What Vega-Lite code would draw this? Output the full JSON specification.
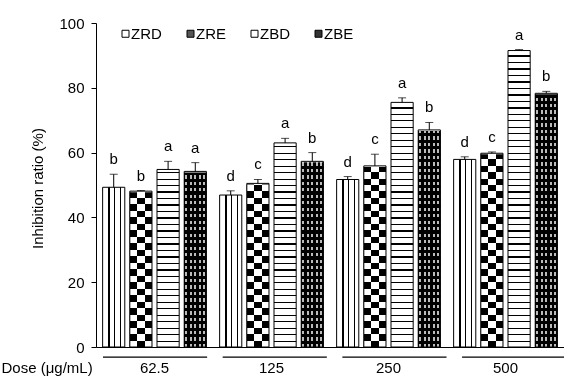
{
"$schema": "https://vega.github.io/schema/vega-lite/v6.json",
"width": 468,
"height": 324,
"autosize": "none",
"padding": {"left": 96, "top": 23, "right": 0, "bottom": 29},
"background": "white",
"data": {"values": [
{"dose":"62.5","series":"ZRD","mean":49.3,"hi":53.3,"letter":"b"},
{"dose":"62.5","series":"ZRE","mean":48.1,"hi":48.3,"letter":"b"},
{"dose":"62.5","series":"ZBD","mean":54.8,"hi":57.3,"letter":"a"},
{"dose":"62.5","series":"ZBE","mean":54.2,"hi":56.9,"letter":"a"},
{"dose":"125","series":"ZRD","mean":46.9,"hi":48.2,"letter":"d"},
{"dose":"125","series":"ZRE","mean":50.5,"hi":51.7,"letter":"c"},
{"dose":"125","series":"ZBD","mean":63.0,"hi":64.4,"letter":"a"},
{"dose":"125","series":"ZBE","mean":57.3,"hi":60.0,"letter":"b"},
{"dose":"250","series":"ZRD","mean":51.7,"hi":52.6,"letter":"d"},
{"dose":"250","series":"ZRE","mean":55.9,"hi":59.5,"letter":"c"},
{"dose":"250","series":"ZBD","mean":75.5,"hi":76.9,"letter":"a"},
{"dose":"250","series":"ZBE","mean":67.0,"hi":69.3,"letter":"b"},
{"dose":"500","series":"ZRD","mean":57.9,"hi":58.7,"letter":"d"},
{"dose":"500","series":"ZRE","mean":59.8,"hi":60.2,"letter":"c"},
{"dose":"500","series":"ZBD","mean":91.5,"hi":91.8,"letter":"a"},
{"dose":"500","series":"ZBE","mean":78.3,"hi":78.9,"letter":"b"}
]},
"layer": [
{
"encoding": {
"x": {"field":"dose","type":"nominal","sort":["62.5","125","250","500"],"scale":{"paddingInner":0.1134,"paddingOuter":0.0567},"title":"Dose (μg/mL)"},
"xOffset": {"field":"series","type":"nominal","sort":["ZRD","ZRE","ZBD","ZBE"],"scale":{"paddingInner":0.185,"paddingOuter":0}}
},
"layer": [
{"mark":{"type":"bar"},
"encoding":{
"y":{"field":"mean","type":"quantitative","scale":{"domain":[0,100],"nice":false},"title":"Inhibition ratio (%)"},
"fill":{"field":"series","type":"nominal","scale":{"domain":["ZRD","ZRE","ZBD","ZBE"],"range":["#ffffff","#555555","#ffffff","#333333"]},
"legend":{"title":null,"orient":"none","legendX":22,"legendY":3,"direction":"horizontal","symbolType":"square","symbolSize":49,"labelFontSize":15,"labelColor":"#000","labelOffset":-2,"columnPadding":21,"padding":0,"symbolStrokeColor":"#000","symbolStrokeWidth":1,
"encode":{"symbols":{"update":{"stroke":{"value":"#000"},"fill":{"signal":"datum.value === 'ZRD' ? {gradient: 'linear', x1: 0, y1: 0, x2: 1, y2: 0, stops: [{offset: 0, color: '#fff'}, {offset: 0.3, color: '#fff'}, {offset: 0.3, color: '#000'}, {offset: 0.45, color: '#000'}, {offset: 0.45, color: '#fff'}, {offset: 0.6, color: '#fff'}, {offset: 0.6, color: '#000'}, {offset: 0.75, color: '#000'}, {offset: 0.75, color: '#fff'}, {offset: 1, color: '#fff'}]} : datum.value === 'ZBD' ? {gradient: 'linear', x1: 1, y1: 0, x2: 1, y2: 1, stops: [{offset: 0, color: '#fff'}, {offset: 0.3, color: '#fff'}, {offset: 0.3, color: '#000'}, {offset: 0.45, color: '#000'}, {offset: 0.45, color: '#fff'}, {offset: 0.6, color: '#fff'}, {offset: 0.6, color: '#000'}, {offset: 0.75, color: '#000'}, {offset: 0.75, color: '#fff'}, {offset: 1, color: '#fff'}]} : datum.value === 'ZRE' ? '#555' : '#333'"}}}}}}
}},
{"transform":[{"filter":"datum.series === 'ZRD'"}],
"mark":{"type":"bar","fill":{"gradient":"linear","x1":0,"y1":0,"x2":1,"y2":0,"stops":[
{"offset":0,"color":"#fff"},{"offset":0.26,"color":"#fff"},{"offset":0.26,"color":"#000"},{"offset":0.31,"color":"#000"},{"offset":0.31,"color":"#fff"},{"offset":0.53,"color":"#fff"},{"offset":0.53,"color":"#000"},{"offset":0.58,"color":"#000"},{"offset":0.58,"color":"#fff"},{"offset":0.8,"color":"#fff"},{"offset":0.8,"color":"#000"},{"offset":0.85,"color":"#000"},{"offset":0.85,"color":"#fff"},{"offset":1,"color":"#fff"}]}},
"encoding":{"y":{"field":"mean","type":"quantitative","title":"Inhibition ratio (%)"}}},
{"transform":[{"filter":"datum.series === 'ZRE'"}],
"mark":{"type":"bar","fill":{"gradient":"linear","x1":0,"y1":0,"x2":1,"y2":0,"stops":[
{"offset":0,"color":"#000"},{"offset":0.333,"color":"#000"},{"offset":0.333,"color":"#fff"},{"offset":0.667,"color":"#fff"},{"offset":0.667,"color":"#000"},{"offset":1,"color":"#000"}]}},
"encoding":{"y":{"datum":100,"type":"quantitative","title":"Inhibition ratio (%)"},"y2":{"datum":0}}},
{"transform":[{"filter":"datum.series === 'ZRE'"}],
"mark":{"type":"bar","blend":"difference","fill":{"gradient":"linear","x1":1,"y1":0,"x2":1,"y2":1,"stops":[
{"offset":0,"color":"#000"},{"offset":0.02,"color":"#000"},{"offset":0.02,"color":"#fff"},{"offset":0.04,"color":"#fff"},
{"offset":0.04,"color":"#000"},{"offset":0.06,"color":"#000"},{"offset":0.06,"color":"#fff"},{"offset":0.08,"color":"#fff"},
{"offset":0.08,"color":"#000"},{"offset":0.1,"color":"#000"},{"offset":0.1,"color":"#fff"},{"offset":0.12,"color":"#fff"},
{"offset":0.12,"color":"#000"},{"offset":0.14,"color":"#000"},{"offset":0.14,"color":"#fff"},{"offset":0.16,"color":"#fff"},
{"offset":0.16,"color":"#000"},{"offset":0.18,"color":"#000"},{"offset":0.18,"color":"#fff"},{"offset":0.2,"color":"#fff"},
{"offset":0.2,"color":"#000"},{"offset":0.22,"color":"#000"},{"offset":0.22,"color":"#fff"},{"offset":0.24,"color":"#fff"},
{"offset":0.24,"color":"#000"},{"offset":0.26,"color":"#000"},{"offset":0.26,"color":"#fff"},{"offset":0.28,"color":"#fff"},
{"offset":0.28,"color":"#000"},{"offset":0.3,"color":"#000"},{"offset":0.3,"color":"#fff"},{"offset":0.32,"color":"#fff"},
{"offset":0.32,"color":"#000"},{"offset":0.34,"color":"#000"},{"offset":0.34,"color":"#fff"},{"offset":0.36,"color":"#fff"},
{"offset":0.36,"color":"#000"},{"offset":0.38,"color":"#000"},{"offset":0.38,"color":"#fff"},{"offset":0.4,"color":"#fff"},
{"offset":0.4,"color":"#000"},{"offset":0.42,"color":"#000"},{"offset":0.42,"color":"#fff"},{"offset":0.44,"color":"#fff"},
{"offset":0.44,"color":"#000"},{"offset":0.46,"color":"#000"},{"offset":0.46,"color":"#fff"},{"offset":0.48,"color":"#fff"},
{"offset":0.48,"color":"#000"},{"offset":0.5,"color":"#000"},{"offset":0.5,"color":"#fff"},{"offset":0.52,"color":"#fff"},
{"offset":0.52,"color":"#000"},{"offset":0.54,"color":"#000"},{"offset":0.54,"color":"#fff"},{"offset":0.56,"color":"#fff"},
{"offset":0.56,"color":"#000"},{"offset":0.58,"color":"#000"},{"offset":0.58,"color":"#fff"},{"offset":0.6,"color":"#fff"},
{"offset":0.6,"color":"#000"},{"offset":0.62,"color":"#000"},{"offset":0.62,"color":"#fff"},{"offset":0.64,"color":"#fff"},
{"offset":0.64,"color":"#000"},{"offset":0.66,"color":"#000"},{"offset":0.66,"color":"#fff"},{"offset":0.68,"color":"#fff"},
{"offset":0.68,"color":"#000"},{"offset":0.7,"color":"#000"},{"offset":0.7,"color":"#fff"},{"offset":0.72,"color":"#fff"},
{"offset":0.72,"color":"#000"},{"offset":0.74,"color":"#000"},{"offset":0.74,"color":"#fff"},{"offset":0.76,"color":"#fff"},
{"offset":0.76,"color":"#000"},{"offset":0.78,"color":"#000"},{"offset":0.78,"color":"#fff"},{"offset":0.8,"color":"#fff"},
{"offset":0.8,"color":"#000"},{"offset":0.82,"color":"#000"},{"offset":0.82,"color":"#fff"},{"offset":0.84,"color":"#fff"},
{"offset":0.84,"color":"#000"},{"offset":0.86,"color":"#000"},{"offset":0.86,"color":"#fff"},{"offset":0.88,"color":"#fff"},
{"offset":0.88,"color":"#000"},{"offset":0.9,"color":"#000"},{"offset":0.9,"color":"#fff"},{"offset":0.92,"color":"#fff"},
{"offset":0.92,"color":"#000"},{"offset":0.94,"color":"#000"},{"offset":0.94,"color":"#fff"},{"offset":0.96,"color":"#fff"},
{"offset":0.96,"color":"#000"},{"offset":0.98,"color":"#000"},{"offset":0.98,"color":"#fff"},{"offset":1,"color":"#fff"}]}},
"encoding":{"y":{"datum":100,"type":"quantitative","title":"Inhibition ratio (%)"},"y2":{"datum":0}}},
{"transform":[{"filter":"datum.series === 'ZBD'"}],
"mark":{"type":"bar","fill":{"gradient":"linear","x1":1,"y1":0,"x2":1,"y2":1,"stops":[
{"offset":0,"color":"#000"},{"offset":0.004,"color":"#000"},{"offset":0.004,"color":"#fff"},{"offset":0.02,"color":"#fff"},
{"offset":0.02,"color":"#000"},{"offset":0.024,"color":"#000"},{"offset":0.024,"color":"#fff"},{"offset":0.04,"color":"#fff"},
{"offset":0.04,"color":"#000"},{"offset":0.044,"color":"#000"},{"offset":0.044,"color":"#fff"},{"offset":0.06,"color":"#fff"},
{"offset":0.06,"color":"#000"},{"offset":0.064,"color":"#000"},{"offset":0.064,"color":"#fff"},{"offset":0.08,"color":"#fff"},
{"offset":0.08,"color":"#000"},{"offset":0.084,"color":"#000"},{"offset":0.084,"color":"#fff"},{"offset":0.1,"color":"#fff"},
{"offset":0.1,"color":"#000"},{"offset":0.104,"color":"#000"},{"offset":0.104,"color":"#fff"},{"offset":0.12,"color":"#fff"},
{"offset":0.12,"color":"#000"},{"offset":0.124,"color":"#000"},{"offset":0.124,"color":"#fff"},{"offset":0.14,"color":"#fff"},
{"offset":0.14,"color":"#000"},{"offset":0.144,"color":"#000"},{"offset":0.144,"color":"#fff"},{"offset":0.16,"color":"#fff"},
{"offset":0.16,"color":"#000"},{"offset":0.164,"color":"#000"},{"offset":0.164,"color":"#fff"},{"offset":0.18,"color":"#fff"},
{"offset":0.18,"color":"#000"},{"offset":0.184,"color":"#000"},{"offset":0.184,"color":"#fff"},{"offset":0.2,"color":"#fff"},
{"offset":0.2,"color":"#000"},{"offset":0.204,"color":"#000"},{"offset":0.204,"color":"#fff"},{"offset":0.22,"color":"#fff"},
{"offset":0.22,"color":"#000"},{"offset":0.224,"color":"#000"},{"offset":0.224,"color":"#fff"},{"offset":0.24,"color":"#fff"},
{"offset":0.24,"color":"#000"},{"offset":0.244,"color":"#000"},{"offset":0.244,"color":"#fff"},{"offset":0.26,"color":"#fff"},
{"offset":0.26,"color":"#000"},{"offset":0.264,"color":"#000"},{"offset":0.264,"color":"#fff"},{"offset":0.28,"color":"#fff"},
{"offset":0.28,"color":"#000"},{"offset":0.284,"color":"#000"},{"offset":0.284,"color":"#fff"},{"offset":0.3,"color":"#fff"},
{"offset":0.3,"color":"#000"},{"offset":0.304,"color":"#000"},{"offset":0.304,"color":"#fff"},{"offset":0.32,"color":"#fff"},
{"offset":0.32,"color":"#000"},{"offset":0.324,"color":"#000"},{"offset":0.324,"color":"#fff"},{"offset":0.34,"color":"#fff"},
{"offset":0.34,"color":"#000"},{"offset":0.344,"color":"#000"},{"offset":0.344,"color":"#fff"},{"offset":0.36,"color":"#fff"},
{"offset":0.36,"color":"#000"},{"offset":0.364,"color":"#000"},{"offset":0.364,"color":"#fff"},{"offset":0.38,"color":"#fff"},
{"offset":0.38,"color":"#000"},{"offset":0.384,"color":"#000"},{"offset":0.384,"color":"#fff"},{"offset":0.4,"color":"#fff"},
{"offset":0.4,"color":"#000"},{"offset":0.404,"color":"#000"},{"offset":0.404,"color":"#fff"},{"offset":0.42,"color":"#fff"},
{"offset":0.42,"color":"#000"},{"offset":0.424,"color":"#000"},{"offset":0.424,"color":"#fff"},{"offset":0.44,"color":"#fff"},
{"offset":0.44,"color":"#000"},{"offset":0.444,"color":"#000"},{"offset":0.444,"color":"#fff"},{"offset":0.46,"color":"#fff"},
{"offset":0.46,"color":"#000"},{"offset":0.464,"color":"#000"},{"offset":0.464,"color":"#fff"},{"offset":0.48,"color":"#fff"},
{"offset":0.48,"color":"#000"},{"offset":0.484,"color":"#000"},{"offset":0.484,"color":"#fff"},{"offset":0.5,"color":"#fff"},
{"offset":0.5,"color":"#000"},{"offset":0.504,"color":"#000"},{"offset":0.504,"color":"#fff"},{"offset":0.52,"color":"#fff"},
{"offset":0.52,"color":"#000"},{"offset":0.524,"color":"#000"},{"offset":0.524,"color":"#fff"},{"offset":0.54,"color":"#fff"},
{"offset":0.54,"color":"#000"},{"offset":0.544,"color":"#000"},{"offset":0.544,"color":"#fff"},{"offset":0.56,"color":"#fff"},
{"offset":0.56,"color":"#000"},{"offset":0.564,"color":"#000"},{"offset":0.564,"color":"#fff"},{"offset":0.58,"color":"#fff"},
{"offset":0.58,"color":"#000"},{"offset":0.584,"color":"#000"},{"offset":0.584,"color":"#fff"},{"offset":0.6,"color":"#fff"},
{"offset":0.6,"color":"#000"},{"offset":0.604,"color":"#000"},{"offset":0.604,"color":"#fff"},{"offset":0.62,"color":"#fff"},
{"offset":0.62,"color":"#000"},{"offset":0.624,"color":"#000"},{"offset":0.624,"color":"#fff"},{"offset":0.64,"color":"#fff"},
{"offset":0.64,"color":"#000"},{"offset":0.644,"color":"#000"},{"offset":0.644,"color":"#fff"},{"offset":0.66,"color":"#fff"},
{"offset":0.66,"color":"#000"},{"offset":0.664,"color":"#000"},{"offset":0.664,"color":"#fff"},{"offset":0.68,"color":"#fff"},
{"offset":0.68,"color":"#000"},{"offset":0.684,"color":"#000"},{"offset":0.684,"color":"#fff"},{"offset":0.7,"color":"#fff"},
{"offset":0.7,"color":"#000"},{"offset":0.704,"color":"#000"},{"offset":0.704,"color":"#fff"},{"offset":0.72,"color":"#fff"},
{"offset":0.72,"color":"#000"},{"offset":0.724,"color":"#000"},{"offset":0.724,"color":"#fff"},{"offset":0.74,"color":"#fff"},
{"offset":0.74,"color":"#000"},{"offset":0.744,"color":"#000"},{"offset":0.744,"color":"#fff"},{"offset":0.76,"color":"#fff"},
{"offset":0.76,"color":"#000"},{"offset":0.764,"color":"#000"},{"offset":0.764,"color":"#fff"},{"offset":0.78,"color":"#fff"},
{"offset":0.78,"color":"#000"},{"offset":0.784,"color":"#000"},{"offset":0.784,"color":"#fff"},{"offset":0.8,"color":"#fff"},
{"offset":0.8,"color":"#000"},{"offset":0.804,"color":"#000"},{"offset":0.804,"color":"#fff"},{"offset":0.82,"color":"#fff"},
{"offset":0.82,"color":"#000"},{"offset":0.824,"color":"#000"},{"offset":0.824,"color":"#fff"},{"offset":0.84,"color":"#fff"},
{"offset":0.84,"color":"#000"},{"offset":0.844,"color":"#000"},{"offset":0.844,"color":"#fff"},{"offset":0.86,"color":"#fff"},
{"offset":0.86,"color":"#000"},{"offset":0.864,"color":"#000"},{"offset":0.864,"color":"#fff"},{"offset":0.88,"color":"#fff"},
{"offset":0.88,"color":"#000"},{"offset":0.884,"color":"#000"},{"offset":0.884,"color":"#fff"},{"offset":0.9,"color":"#fff"},
{"offset":0.9,"color":"#000"},{"offset":0.904,"color":"#000"},{"offset":0.904,"color":"#fff"},{"offset":0.92,"color":"#fff"},
{"offset":0.92,"color":"#000"},{"offset":0.924,"color":"#000"},{"offset":0.924,"color":"#fff"},{"offset":0.94,"color":"#fff"},
{"offset":0.94,"color":"#000"},{"offset":0.944,"color":"#000"},{"offset":0.944,"color":"#fff"},{"offset":0.96,"color":"#fff"},
{"offset":0.96,"color":"#000"},{"offset":0.964,"color":"#000"},{"offset":0.964,"color":"#fff"},{"offset":0.98,"color":"#fff"},
{"offset":0.98,"color":"#000"},{"offset":0.984,"color":"#000"},{"offset":0.984,"color":"#fff"},{"offset":1,"color":"#fff"}]}},
"encoding":{"y":{"datum":100,"type":"quantitative","title":"Inhibition ratio (%)"},"y2":{"datum":0}}},
{"transform":[{"filter":"datum.series === 'ZBE'"}],
"mark":{"type":"bar","fill":{"gradient":"linear","x1":0,"y1":0,"x2":1,"y2":0,"stops":[
{"offset":0,"color":"#000"},{"offset":0.05,"color":"#000"},{"offset":0.05,"color":"#fff"},{"offset":0.14,"color":"#fff"},{"offset":0.14,"color":"#000"},{"offset":0.25,"color":"#000"},{"offset":0.25,"color":"#fff"},{"offset":0.34,"color":"#fff"},{"offset":0.34,"color":"#000"},{"offset":0.45,"color":"#000"},{"offset":0.45,"color":"#fff"},{"offset":0.54,"color":"#fff"},{"offset":0.54,"color":"#000"},{"offset":0.65,"color":"#000"},{"offset":0.65,"color":"#fff"},{"offset":0.74,"color":"#fff"},{"offset":0.74,"color":"#000"},{"offset":0.85,"color":"#000"},{"offset":0.85,"color":"#fff"},{"offset":0.94,"color":"#fff"},{"offset":0.94,"color":"#000"},{"offset":1,"color":"#000"}]}},
"encoding":{"y":{"datum":100,"type":"quantitative","title":"Inhibition ratio (%)"},"y2":{"datum":0}}},
{"transform":[{"filter":"datum.series === 'ZBE'"}],
"mark":{"type":"bar","blend":"multiply","fill":{"gradient":"linear","x1":1,"y1":0,"x2":1,"y2":1,"stops":[
{"offset":0,"color":"#000"},{"offset":0.01,"color":"#000"},{"offset":0.01,"color":"#bbb"},{"offset":0.02,"color":"#bbb"},
{"offset":0.02,"color":"#000"},{"offset":0.03,"color":"#000"},{"offset":0.03,"color":"#bbb"},{"offset":0.04,"color":"#bbb"},
{"offset":0.04,"color":"#000"},{"offset":0.05,"color":"#000"},{"offset":0.05,"color":"#bbb"},{"offset":0.06,"color":"#bbb"},
{"offset":0.06,"color":"#000"},{"offset":0.07,"color":"#000"},{"offset":0.07,"color":"#bbb"},{"offset":0.08,"color":"#bbb"},
{"offset":0.08,"color":"#000"},{"offset":0.09,"color":"#000"},{"offset":0.09,"color":"#bbb"},{"offset":0.1,"color":"#bbb"},
{"offset":0.1,"color":"#000"},{"offset":0.11,"color":"#000"},{"offset":0.11,"color":"#bbb"},{"offset":0.12,"color":"#bbb"},
{"offset":0.12,"color":"#000"},{"offset":0.13,"color":"#000"},{"offset":0.13,"color":"#bbb"},{"offset":0.14,"color":"#bbb"},
{"offset":0.14,"color":"#000"},{"offset":0.15,"color":"#000"},{"offset":0.15,"color":"#bbb"},{"offset":0.16,"color":"#bbb"},
{"offset":0.16,"color":"#000"},{"offset":0.17,"color":"#000"},{"offset":0.17,"color":"#bbb"},{"offset":0.18,"color":"#bbb"},
{"offset":0.18,"color":"#000"},{"offset":0.19,"color":"#000"},{"offset":0.19,"color":"#bbb"},{"offset":0.2,"color":"#bbb"},
{"offset":0.2,"color":"#000"},{"offset":0.21,"color":"#000"},{"offset":0.21,"color":"#bbb"},{"offset":0.22,"color":"#bbb"},
{"offset":0.22,"color":"#000"},{"offset":0.23,"color":"#000"},{"offset":0.23,"color":"#bbb"},{"offset":0.24,"color":"#bbb"},
{"offset":0.24,"color":"#000"},{"offset":0.25,"color":"#000"},{"offset":0.25,"color":"#bbb"},{"offset":0.26,"color":"#bbb"},
{"offset":0.26,"color":"#000"},{"offset":0.27,"color":"#000"},{"offset":0.27,"color":"#bbb"},{"offset":0.28,"color":"#bbb"},
{"offset":0.28,"color":"#000"},{"offset":0.29,"color":"#000"},{"offset":0.29,"color":"#bbb"},{"offset":0.3,"color":"#bbb"},
{"offset":0.3,"color":"#000"},{"offset":0.31,"color":"#000"},{"offset":0.31,"color":"#bbb"},{"offset":0.32,"color":"#bbb"},
{"offset":0.32,"color":"#000"},{"offset":0.33,"color":"#000"},{"offset":0.33,"color":"#bbb"},{"offset":0.34,"color":"#bbb"},
{"offset":0.34,"color":"#000"},{"offset":0.35,"color":"#000"},{"offset":0.35,"color":"#bbb"},{"offset":0.36,"color":"#bbb"},
{"offset":0.36,"color":"#000"},{"offset":0.37,"color":"#000"},{"offset":0.37,"color":"#bbb"},{"offset":0.38,"color":"#bbb"},
{"offset":0.38,"color":"#000"},{"offset":0.39,"color":"#000"},{"offset":0.39,"color":"#bbb"},{"offset":0.4,"color":"#bbb"},
{"offset":0.4,"color":"#000"},{"offset":0.41,"color":"#000"},{"offset":0.41,"color":"#bbb"},{"offset":0.42,"color":"#bbb"},
{"offset":0.42,"color":"#000"},{"offset":0.43,"color":"#000"},{"offset":0.43,"color":"#bbb"},{"offset":0.44,"color":"#bbb"},
{"offset":0.44,"color":"#000"},{"offset":0.45,"color":"#000"},{"offset":0.45,"color":"#bbb"},{"offset":0.46,"color":"#bbb"},
{"offset":0.46,"color":"#000"},{"offset":0.47,"color":"#000"},{"offset":0.47,"color":"#bbb"},{"offset":0.48,"color":"#bbb"},
{"offset":0.48,"color":"#000"},{"offset":0.49,"color":"#000"},{"offset":0.49,"color":"#bbb"},{"offset":0.5,"color":"#bbb"},
{"offset":0.5,"color":"#000"},{"offset":0.51,"color":"#000"},{"offset":0.51,"color":"#bbb"},{"offset":0.52,"color":"#bbb"},
{"offset":0.52,"color":"#000"},{"offset":0.53,"color":"#000"},{"offset":0.53,"color":"#bbb"},{"offset":0.54,"color":"#bbb"},
{"offset":0.54,"color":"#000"},{"offset":0.55,"color":"#000"},{"offset":0.55,"color":"#bbb"},{"offset":0.56,"color":"#bbb"},
{"offset":0.56,"color":"#000"},{"offset":0.57,"color":"#000"},{"offset":0.57,"color":"#bbb"},{"offset":0.58,"color":"#bbb"},
{"offset":0.58,"color":"#000"},{"offset":0.59,"color":"#000"},{"offset":0.59,"color":"#bbb"},{"offset":0.6,"color":"#bbb"},
{"offset":0.6,"color":"#000"},{"offset":0.61,"color":"#000"},{"offset":0.61,"color":"#bbb"},{"offset":0.62,"color":"#bbb"},
{"offset":0.62,"color":"#000"},{"offset":0.63,"color":"#000"},{"offset":0.63,"color":"#bbb"},{"offset":0.64,"color":"#bbb"},
{"offset":0.64,"color":"#000"},{"offset":0.65,"color":"#000"},{"offset":0.65,"color":"#bbb"},{"offset":0.66,"color":"#bbb"},
{"offset":0.66,"color":"#000"},{"offset":0.67,"color":"#000"},{"offset":0.67,"color":"#bbb"},{"offset":0.68,"color":"#bbb"},
{"offset":0.68,"color":"#000"},{"offset":0.69,"color":"#000"},{"offset":0.69,"color":"#bbb"},{"offset":0.7,"color":"#bbb"},
{"offset":0.7,"color":"#000"},{"offset":0.71,"color":"#000"},{"offset":0.71,"color":"#bbb"},{"offset":0.72,"color":"#bbb"},
{"offset":0.72,"color":"#000"},{"offset":0.73,"color":"#000"},{"offset":0.73,"color":"#bbb"},{"offset":0.74,"color":"#bbb"},
{"offset":0.74,"color":"#000"},{"offset":0.75,"color":"#000"},{"offset":0.75,"color":"#bbb"},{"offset":0.76,"color":"#bbb"},
{"offset":0.76,"color":"#000"},{"offset":0.77,"color":"#000"},{"offset":0.77,"color":"#bbb"},{"offset":0.78,"color":"#bbb"},
{"offset":0.78,"color":"#000"},{"offset":0.79,"color":"#000"},{"offset":0.79,"color":"#bbb"},{"offset":0.8,"color":"#bbb"},
{"offset":0.8,"color":"#000"},{"offset":0.81,"color":"#000"},{"offset":0.81,"color":"#bbb"},{"offset":0.82,"color":"#bbb"},
{"offset":0.82,"color":"#000"},{"offset":0.83,"color":"#000"},{"offset":0.83,"color":"#bbb"},{"offset":0.84,"color":"#bbb"},
{"offset":0.84,"color":"#000"},{"offset":0.85,"color":"#000"},{"offset":0.85,"color":"#bbb"},{"offset":0.86,"color":"#bbb"},
{"offset":0.86,"color":"#000"},{"offset":0.87,"color":"#000"},{"offset":0.87,"color":"#bbb"},{"offset":0.88,"color":"#bbb"},
{"offset":0.88,"color":"#000"},{"offset":0.89,"color":"#000"},{"offset":0.89,"color":"#bbb"},{"offset":0.9,"color":"#bbb"},
{"offset":0.9,"color":"#000"},{"offset":0.91,"color":"#000"},{"offset":0.91,"color":"#bbb"},{"offset":0.92,"color":"#bbb"},
{"offset":0.92,"color":"#000"},{"offset":0.93,"color":"#000"},{"offset":0.93,"color":"#bbb"},{"offset":0.94,"color":"#bbb"},
{"offset":0.94,"color":"#000"},{"offset":0.95,"color":"#000"},{"offset":0.95,"color":"#bbb"},{"offset":0.96,"color":"#bbb"},
{"offset":0.96,"color":"#000"},{"offset":0.97,"color":"#000"},{"offset":0.97,"color":"#bbb"},{"offset":0.98,"color":"#bbb"},
{"offset":0.98,"color":"#000"},{"offset":0.99,"color":"#000"},{"offset":0.99,"color":"#bbb"},{"offset":1,"color":"#bbb"}]}},
"encoding":{"y":{"datum":100,"type":"quantitative","title":"Inhibition ratio (%)"},"y2":{"datum":0}}},
{"transform":[{"filter":"datum.series !== 'ZRD'"}],
"mark":{"type":"bar","fill":"#ffffff","stroke":"#ffffff","strokeWidth":2},
"encoding":{"y":{"field":"mean","type":"quantitative","title":"Inhibition ratio (%)"},"y2":{"datum":100}}},
{"mark":{"type":"bar","fillOpacity":0,"stroke":"#000","strokeWidth":1},
"encoding":{"y":{"field":"mean","type":"quantitative","title":"Inhibition ratio (%)"}}},
{"mark":{"type":"rule","color":"#000","strokeWidth":1},
"encoding":{"y":{"field":"mean","type":"quantitative","title":"Inhibition ratio (%)"},"y2":{"field":"hi"}}},
{"mark":{"type":"tick","color":"#000","thickness":1,"size":8},
"encoding":{"y":{"field":"hi","type":"quantitative","title":"Inhibition ratio (%)"}}},
{"mark":{"type":"text","dy":-10,"fontSize":15,"color":"#000","baseline":"alphabetic","align":"center"},
"encoding":{"y":{"field":"hi","type":"quantitative","title":"Inhibition ratio (%)"},"text":{"field":"letter"}}}
]
},
{"transform":[{"filter":"datum.series === 'ZRD'"}],
"mark":{"type":"bar","color":"#000"},
"encoding":{
"x":{"field":"dose","type":"nominal","sort":["62.5","125","250","500"],"scale":{"range":[7,470.2],"paddingInner":0.13,"paddingOuter":0},"axis":null},
"y":{"datum":-2.95,"type":"quantitative","title":"Inhibition ratio (%)"},
"y2":{"datum":-3.3}
}}
],
"resolve": {"scale": {"x": "independent"}},
"config": {
"font": "Liberation Sans",
"view": {"stroke": null},
"axis": {"domainColor":"#000","tickColor":"#000","labelColor":"#000","titleColor":"#000","labelFontSize":15,"titleFontSize":15,"titleFontWeight":"normal","grid":false},
"axisY": {"tickSize":5,"labelPadding":7,"tickCount":5,"titleX":-59,"titleY":165,"titleAngle":270,"titleAlign":"center","titleBaseline":"middle"},
"axisX": {"ticks":false,"tickSize":0,"labelAngle":0,"labelPadding":13,"titleX":-95,"titleY":25,"titleAlign":"left","titleAnchor":"start","titleBaseline":"alphabetic"}
}
}
